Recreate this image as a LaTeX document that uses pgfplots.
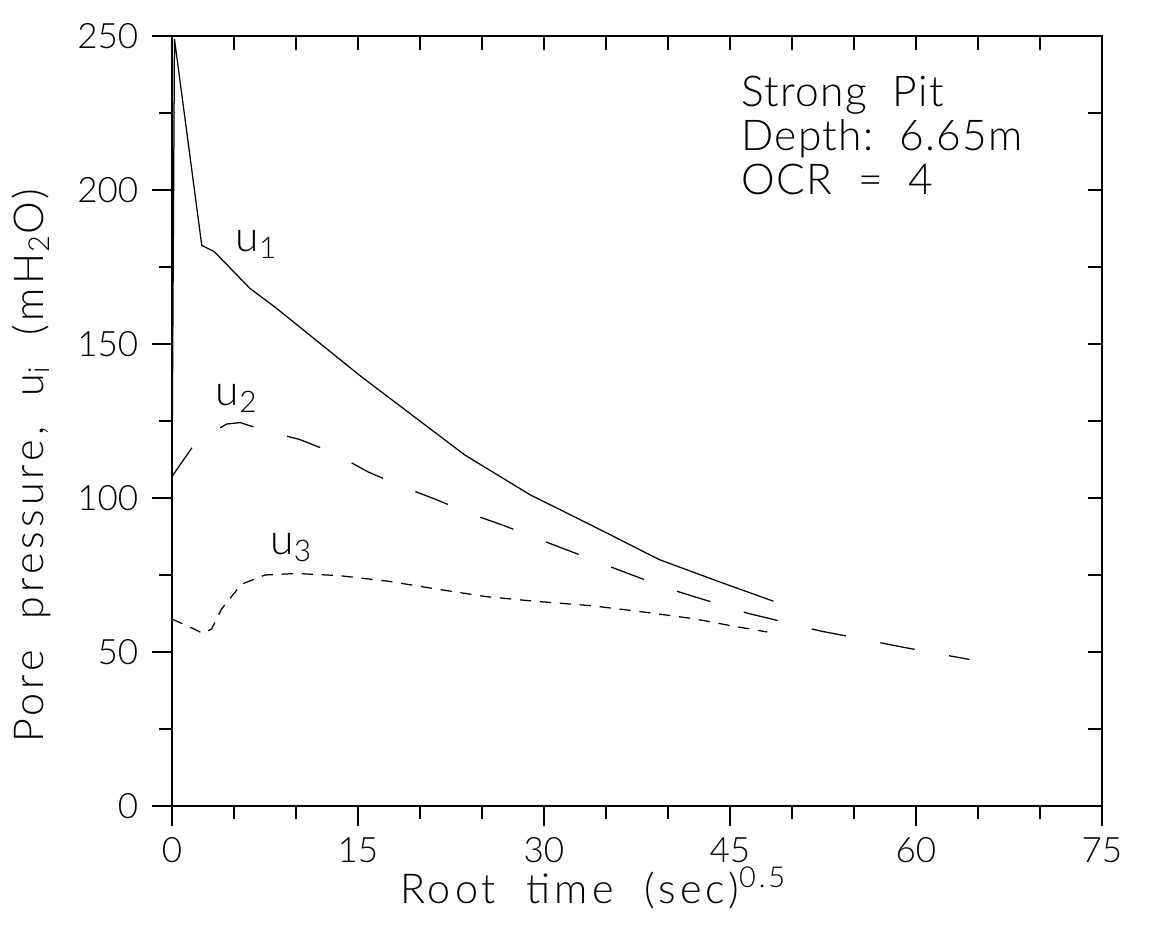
\documentclass[border=0pt]{standalone}
\usepackage{fontspec}
\IfFontExistsTF{Lato Light}{\setmainfont{Lato Light}}{\setmainfont{Lato}}
\usepackage{pgfplots}
\pgfplotsset{compat=1.18}
\begin{document}
\begin{tikzpicture}
\useasboundingbox (0,0) rectangle (462pt,370pt);
\begin{axis}[
  at={(68.8pt,47.6pt)}, anchor=south west,
  scale only axis, width=372pt, height=308pt,
  xmin=0, xmax=75, ymin=0, ymax=250,
  xtick={0,15,...,75}, ytick={0,50,...,250},
  minor xtick={5,10,20,25,35,40,50,55,65,70},
  minor ytick={25,75,...,225},
  xtick pos=bottom, ytick pos=left,
  tick align=outside,
  major tick length=8pt, minor tick length=5.2pt,
  axis line style={line width=0.6pt},
  tick style={line width=0.5pt, black},
  /pgf/number format/assume math mode=true,
  ticklabel style={font=\fontsize{14}{16}\selectfont},
  yticklabel style={xshift=-2pt},
  xticklabel style={yshift=-1pt},
  xlabel={Root\ \ time\ \ (sec)\textsuperscript{0.5}},
  ylabel={Pore\ \ pressure,\ \ u\textsubscript{i}\ \ (mH\textsubscript{2}O)},
  label style={font=\fontsize{16.5}{18}\selectfont\addfontfeatures{LetterSpace=10}},
  xlabel style={at={(axis description cs:0.453,-0.126)}, anchor=base},
  ylabel style={at={(axis description cs:-0.1387,0.442)}, anchor=base},
  clip=false,
]
\addplot[black, line width=0.5pt] coordinates {
 (0,105) (0.2,249) (2.4,182) (3.4,180) (6.3,168) (8.3,162) (15.2,139.6)
 (23.6,114) (28.9,101) (33.9,91) (39.3,80) (44,73) (48.5,66.5)
};
\addplot[black, line width=0.5pt, dash pattern=on 14pt off 14pt] coordinates {
 (0,107) (1.9,118) (4.4,124) (5.5,124.5) (7.4,122) (10.3,119) (13,114.7)
 (15.8,108.5) (18.4,104) (21.3,99.5) (24,95) (26.8,91) (29,87.5)
 (33.9,80) (35.4,77.6) (38.1,73.5) (40.9,69.5) (43.7,66) (46.4,62.6)
 (49.7,59.4) (52.3,56.8) (55.3,54.5) (58,52.3) (61,50) (64.3,47.6)
};
\addplot[black, line width=0.5pt, dash pattern=on 4.5pt off 3.5pt] coordinates {
 (0,60.7) (1.5,58) (2.5,56) (3.2,57.5) (4,64) (5.6,72) (7.5,75)
 (10,75.5) (13.5,74.8) (17.4,73) (21.4,70.4) (25.3,68) (29.2,66.5)
 (33.9,65) (38,63) (42.1,60.8) (45,58.6) (48,56.5)
};
\node[anchor=base west, inner sep=0, font=\fontsize{17}{19}\selectfont] at (axis cs:5.1,180) {u\textsubscript{1}};
\node[anchor=base west, inner sep=0, font=\fontsize{17}{19}\selectfont] at (axis cs:3.5,130) {u\textsubscript{2}};
\node[anchor=base west, inner sep=0, font=\fontsize{17}{19}\selectfont] at (axis cs:7.9,81.5) {u\textsubscript{3}};
\node[anchor=north west, inner sep=0, align=left, font=\fontsize{17}{17.6}\selectfont\addfontfeatures{LetterSpace=3}] at (axis cs:45.9,237.3)
 {Strong\ \ Pit\\Depth:\ \ 6.65m\\OCR\ \ =\ \ 4};
\end{axis}
\begin{axis}[
  at={(68.8pt,47.6pt)}, anchor=south west,
  scale only axis, width=372pt, height=308pt,
  xmin=0, xmax=75, ymin=0, ymax=250,
  xtick={0,15,...,75}, ytick={0,50,...,250},
  minor xtick={5,10,20,25,35,40,50,55,65,70},
  minor ytick={25,75,...,225},
  xtick pos=top, ytick pos=right,
  tick align=inside,
  major tick length=5.5pt, minor tick length=5.5pt,
  axis line style={line width=0.6pt},
  tick style={line width=0.5pt, black},
  xticklabels={}, yticklabels={},
]
\end{axis}
\end{tikzpicture}
\end{document}
